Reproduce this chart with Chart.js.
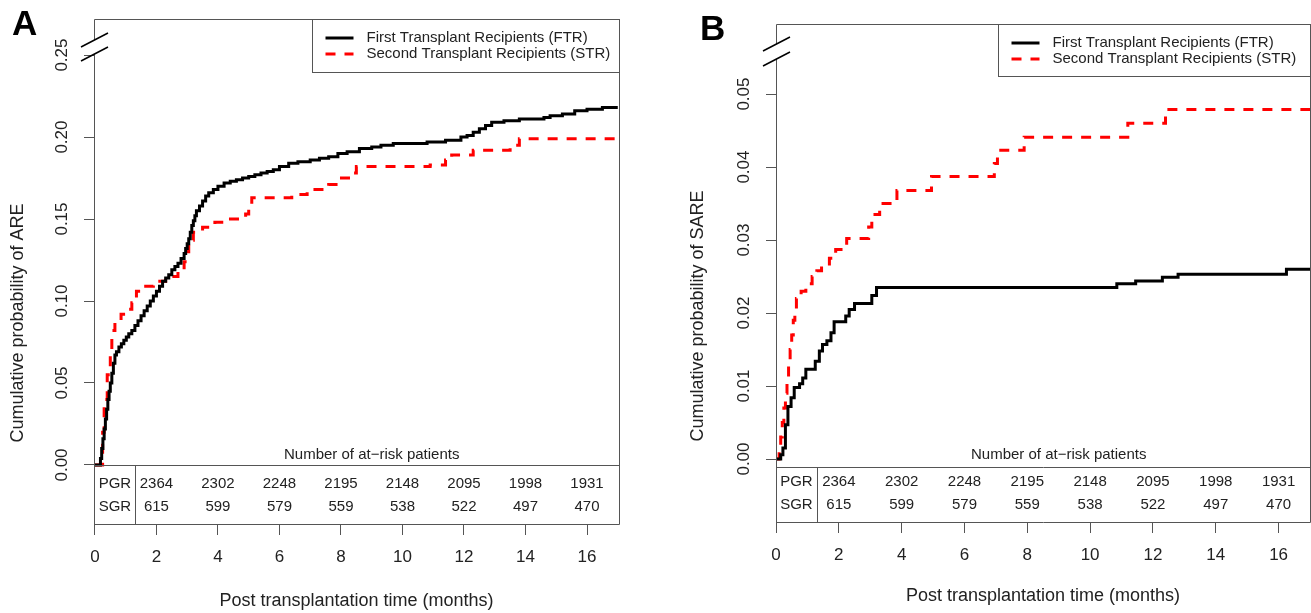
<!DOCTYPE html>
<html>
<head>
  <meta charset="utf-8">
  <title>Cumulative probability of ARE and SARE</title>
  <script src="https://cdn.jsdelivr.net/npm/chart.js"></script>
  <style>
    body { margin: 0; background: #fff; }
    #wrap { position: relative; width: 1311px; height: 613px; overflow: hidden; }
    canvas { position: absolute; top: 0; }
    #chartA { left: 0; }
    #chartB { left: 655px; }
  </style>
</head>
<body>
<div id="wrap">
  <canvas id="chartA" width="655" height="613"></canvas>
  <canvas id="chartB" width="656" height="613"></canvas>
</div>

<script>
  // ---- data ----
  const seriesNames = ['First Transplant Recipients (FTR)', 'Second Transplant Recipients (STR)'];
  const xTicks = [0, 2, 4, 6, 8, 10, 12, 14, 16];
  const yTicksA = [0, 0.05, 0.10, 0.15, 0.20, 0.25];
  const yTicksB = [0, 0.01, 0.02, 0.03, 0.04, 0.05];

  // panel A: cumulative probability of ARE
  const ftrTimeA = [0, 0.14, 0.18, 0.22, 0.26, 0.3, 0.34, 0.38, 0.42, 0.46, 0.5, 0.55, 0.6, 0.65, 0.7, 0.78, 0.86, 0.94, 1.02, 1.1,
    1.2, 1.3, 1.4, 1.5, 1.6, 1.7, 1.8, 1.9, 2.0, 2.1, 2.2, 2.3, 2.4, 2.5, 2.6, 2.7, 2.8, 2.9, 2.95, 3.0,
    3.05, 3.1, 3.15, 3.2, 3.25, 3.3, 3.4, 3.5, 3.6, 3.7, 3.85, 4.0, 4.2, 4.4, 4.6, 4.8, 5.0, 5.2, 5.4, 5.6,
    5.8, 6.0, 6.3, 6.6, 7.0, 7.3, 7.6, 7.9, 8.2, 8.6, 9.0, 9.3, 9.7, 10.2, 10.8, 11.4, 11.9, 12.1, 12.3, 12.5,
    12.7, 12.9, 13.3, 13.8, 14.3, 14.6, 14.8, 15.2, 15.6, 16.0, 16.5, 17.0];
  const ftrProbA = [0, 0, 0.004, 0.01, 0.016, 0.022, 0.028, 0.034, 0.04, 0.045, 0.05, 0.056, 0.062, 0.067, 0.069, 0.072, 0.074, 0.076, 0.078, 0.08,
    0.082, 0.085, 0.088, 0.091, 0.094, 0.097, 0.1, 0.103, 0.106, 0.109, 0.112, 0.114, 0.116, 0.119, 0.121, 0.123, 0.126, 0.129, 0.132, 0.135,
    0.138, 0.142, 0.146, 0.149, 0.152, 0.155, 0.158, 0.161, 0.164, 0.166, 0.168, 0.170, 0.172, 0.173, 0.174, 0.175, 0.176, 0.177, 0.178, 0.179,
    0.180, 0.182, 0.184, 0.185, 0.186, 0.187, 0.188, 0.190, 0.191, 0.193, 0.194, 0.195, 0.196, 0.196, 0.197, 0.198, 0.2, 0.201, 0.203, 0.205,
    0.207, 0.209, 0.21, 0.211, 0.211, 0.212, 0.213, 0.214, 0.216, 0.217, 0.218, 0.218];
  const strTimeA = [0, 0.2, 0.25, 0.3, 0.4, 0.5, 0.55, 0.65, 0.85, 1.0, 1.2, 1.35, 1.6, 1.9, 2.3, 2.7, 2.9, 3.0, 3.05, 3.2,
    3.5, 3.9, 4.3, 4.9, 5.0, 5.1, 6.4, 6.9, 7.6, 7.9, 8.4, 8.5, 10.9, 11.4, 11.6, 12.3, 13.5, 13.8, 17.0];
  const strProbA = [0, 0, 0.02, 0.04, 0.055, 0.07, 0.082, 0.088, 0.092, 0.095, 0.099, 0.106, 0.109, 0.112, 0.115, 0.118, 0.124, 0.13, 0.137, 0.142,
    0.145, 0.148, 0.15, 0.153, 0.158, 0.163, 0.165, 0.168, 0.171, 0.175, 0.178, 0.182, 0.183, 0.186, 0.189, 0.192, 0.195, 0.199, 0.199];

  // panel B: cumulative probability of SARE
  const ftrTimeB = [0, 0.15, 0.22, 0.3, 0.38, 0.48, 0.58, 0.75, 0.85, 0.95, 1.25, 1.38, 1.48, 1.62, 1.75, 1.85, 2.22, 2.33, 2.5, 3.05,
    3.2, 10.85, 11.45, 12.3, 12.8, 16.25, 17.0];
  const ftrProbB = [0, 0.0006, 0.0015, 0.0047, 0.0072, 0.0084, 0.0098, 0.0103, 0.0111, 0.0123, 0.0134, 0.0148, 0.0157, 0.0162, 0.0173, 0.0188, 0.0196, 0.0205, 0.0213, 0.0224,
    0.0235, 0.024, 0.0244, 0.0249, 0.0253, 0.026, 0.026];
  const strTimeB = [0, 0.1, 0.15, 0.2, 0.25, 0.3, 0.35, 0.4, 0.45, 0.5, 0.55, 0.6, 0.65, 0.8, 0.95, 1.15, 1.3, 1.45, 1.7, 1.9,
    2.25, 2.95, 3.05, 3.3, 3.85, 4.95, 6.95, 7.05, 7.9, 11.2, 12.4, 17.0];
  const strProbB = [0, 0.001, 0.003, 0.005, 0.007, 0.009, 0.011, 0.013, 0.015, 0.017, 0.019, 0.0205, 0.022, 0.023, 0.024, 0.025, 0.0258, 0.0265, 0.0275, 0.0287,
    0.0302, 0.0318, 0.0335, 0.035, 0.0368, 0.0387, 0.0405, 0.0423, 0.0441, 0.046, 0.0479, 0.0479];

  // number at risk table (same in both panels)
  const riskRowLabels = ['PGR', 'SGR'];
  const riskMonths = [2, 4, 6, 8, 10, 12, 14, 16];
  const pgrAtRisk = [2364, 2302, 2248, 2195, 2148, 2095, 1998, 1931];
  const sgrAtRisk = [615, 599, 579, 559, 538, 522, 497, 470];

  // ---- styling ----
  const FONT = '"Liberation Sans", Arial, sans-serif';
  const TEXT = '#222';
  const GREY = '#555';

  const toPoints = (ts, vs) => ts.map((t, i) => ({ x: t, y: vs[i] }));

  // frame with axis break, legend, at-risk table, titles, panel letter
  const kmDecor = {
    id: 'kmDecor',
    afterDraw(chart, args, o) {
      const { ctx, chartArea: a, scales: { x, y } } = chart;
      const px = v => Math.round(v) + 0.5;
      const L = px(a.left), R = px(a.right), T = px(a.top), B = px(a.bottom);
      ctx.save();

      // box
      ctx.strokeStyle = GREY;
      ctx.lineWidth = 1;
      ctx.beginPath();
      ctx.moveTo(L, T); ctx.lineTo(R, T); ctx.lineTo(R, B); ctx.lineTo(L, B);
      ctx.lineTo(L, a.top + o.breakY[1]);
      ctx.moveTo(L, T); ctx.lineTo(L, a.top + o.breakY[0]);
      ctx.stroke();

      // axis break marks
      ctx.strokeStyle = '#000';
      ctx.lineWidth = 1.5;
      ctx.beginPath();
      o.breakY.forEach(by => {
        ctx.moveTo(a.left - 13, a.top + by + 7);
        ctx.lineTo(a.left + 14, a.top + by - 7);
      });
      ctx.stroke();

      // legend
      const lx = px(a.right - o.legendW);
      ctx.fillStyle = '#fff';
      ctx.fillRect(lx, T, o.legendW, o.legendH);
      ctx.strokeStyle = GREY;
      ctx.lineWidth = 1;
      ctx.strokeRect(lx, T, o.legendW, o.legendH);
      ctx.font = '15px ' + FONT;
      ctx.textBaseline = 'middle';
      ctx.textAlign = 'left';
      chart.data.datasets.forEach((ds, i) => {
        const ry = a.top + 19 + i * 16;
        ctx.strokeStyle = ds.borderColor;
        ctx.lineWidth = 3;
        ctx.setLineDash(ds.borderDash || []);
        ctx.beginPath();
        ctx.moveTo(lx + 13, ry); ctx.lineTo(lx + 41, ry);
        ctx.stroke();
        ctx.setLineDash([]);
        ctx.fillStyle = TEXT;
        ctx.fillText(ds.label, lx + 54, ry);
      });

      // number at risk table
      const tl = px(y.getPixelForValue(0) + o.tableDrop);
      const dv = px(x.getPixelForValue(1.3));
      ctx.strokeStyle = GREY;
      ctx.lineWidth = 1;
      ctx.beginPath();
      ctx.moveTo(L, tl); ctx.lineTo(R, tl);
      ctx.moveTo(dv, tl); ctx.lineTo(dv, B);
      ctx.stroke();
      ctx.fillStyle = TEXT;
      ctx.textAlign = 'center';
      ctx.fillText('Number of at\u2212risk patients', x.getPixelForValue(9), 455);
      const rows = [pgrAtRisk, sgrAtRisk];
      const rowY = [a.bottom - 40, a.bottom - 17];
      rows.forEach((vals, r) => {
        ctx.fillText(riskRowLabels[r], x.getPixelForValue(0.65), rowY[r]);
        vals.forEach((n, i) => ctx.fillText(String(n), x.getPixelForValue(riskMonths[i]), rowY[r]));
      });

      // y title
      ctx.save();
      ctx.translate(o.yTitleX, o.yTitleY);
      ctx.rotate(-Math.PI / 2);
      ctx.font = '18px ' + FONT;
      ctx.fillText(o.yTitle, 0, 0);
      ctx.restore();

      // panel letter
      ctx.font = 'bold 35px ' + FONT;
      ctx.fillStyle = '#000';
      ctx.textAlign = 'left';
      ctx.textBaseline = 'alphabetic';
      ctx.fillText(o.letter, o.letterX, o.letterY);

      ctx.restore();
    }
  };

  function makeChart(id, p) {
    return new Chart(document.getElementById(id), {
      type: 'line',
      data: {
        datasets: [
          { label: seriesNames[0], data: p.ftr, borderColor: '#000', borderWidth: 3, stepped: true, pointRadius: 0 },
          { label: seriesNames[1], data: p.str, borderColor: '#ff0000', borderWidth: 3, borderDash: [10, 9], stepped: true, pointRadius: 0 }
        ]
      },
      options: {
        responsive: false,
        animation: false,
        events: [],
        layout: { padding: p.pad },
        plugins: {
          legend: { display: false },
          tooltip: { enabled: false },
          kmDecor: p.decor
        },
        scales: {
          x: {
            type: 'linear', min: p.xMin, max: p.xMax, bounds: 'data',
            afterBuildTicks: s => { s.ticks = xTicks.map(v => ({ value: v })); },
            afterFit: s => { s.height = p.xHeight; },
            border: { display: false },
            grid: { drawOnChartArea: false, tickLength: 11, color: GREY },
            ticks: { autoSkip: false, maxRotation: 0, padding: 12, color: TEXT, font: { family: FONT, size: 17 } },
            title: { display: true, text: 'Post transplantation time (months)', color: TEXT,
                     font: { family: FONT, size: 18 }, padding: { top: 0, bottom: p.xTitlePad } }
          },
          y: {
            type: 'linear', min: p.yMin, max: p.yMax, bounds: 'data',
            afterBuildTicks: s => { s.ticks = p.yTicks.map(v => ({ value: v })); },
            afterFit: s => { s.width = p.yWidth; },
            border: { display: false },
            grid: { drawOnChartArea: false, tickLength: 10, color: GREY },
            ticks: { autoSkip: false, minRotation: 90, maxRotation: 90, crossAlign: 'center', padding: 5,
                     color: TEXT, font: { family: FONT, size: 17 }, callback: v => v.toFixed(2) }
          }
        }
      },
      plugins: [kmDecor]
    });
  }

  makeChart('chartA', {
    ftr: toPoints(ftrTimeA, ftrProbA),
    str: toPoints(strTimeA, strProbA),
    yTicks: yTicksA, yMin: -0.036, yMax: 0.272,
    xMin: -0.03, xMax: 17.04,
    pad: { left: 0, right: 36, top: 19, bottom: 0 },
    yWidth: 94, xHeight: 89, xTitlePad: 1,
    decor: { letter: 'A', letterX: 12, letterY: 35, yTitle: 'Cumulative probability of ARE', yTitleX: 18, yTitleY: 323,
             legendW: 307, legendH: 53, breakY: [21, 35], tableDrop: 0 }
  });

  makeChart('chartB', {
    ftr: toPoints(ftrTimeB, ftrProbB),
    str: toPoints(strTimeB, strProbB),
    yTicks: yTicksB, yMin: -0.00863, yMax: 0.0596,
    xMin: 0, xMax: 17,
    pad: { left: 0, right: 1, top: 24, bottom: 0 },
    yWidth: 121, xHeight: 91, xTitlePad: 6,
    decor: { letter: 'B', letterX: 45, letterY: 40, yTitle: 'Cumulative probability of SARE', yTitleX: 43, yTitleY: 316,
             legendW: 312, legendH: 52, breakY: [20, 35], tableDrop: 8 }
  });
</script>
</body>
</html>
